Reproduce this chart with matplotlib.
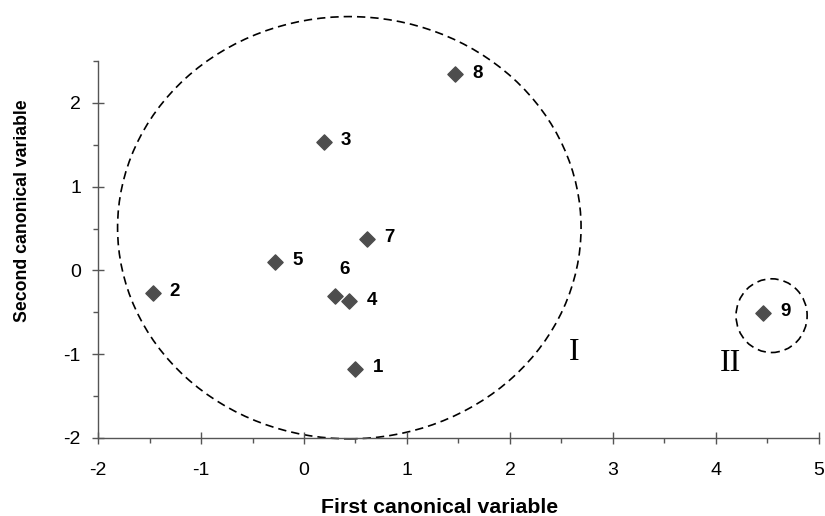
import matplotlib.pyplot as plt
from matplotlib.patches import Ellipse
from matplotlib.ticker import MultipleLocator

# canonical scores for the nine samples
labels = ['1', '2', '3', '4', '5', '6', '7', '8', '9']
first_cv = [0.50, -1.47, 0.19, 0.44, -0.28, 0.30, 0.61, 1.47, 4.46]
second_cv = [-1.18, -0.27, 1.53, -0.37, 0.10, -0.30, 0.38, 2.34, -0.51]

# cluster outlines (center x, center y, width, height) and names
clusters = ['I', 'II']
cluster_shapes = [(0.44, 0.51, 4.50, 5.04), (4.54, -0.54, 0.69, 0.88)]
cluster_name_pos = [(2.62, -1.075), (4.14, -1.20)]

plt.rcParams['font.family'] = ['Liberation Sans', 'DejaVu Sans']
plt.rcParams['axes.unicode_minus'] = False

fig = plt.figure(figsize=(8.25, 5.16), dpi=100)
ax = fig.add_axes([0.1188, 0.1512, 0.8739, 0.7306])

ax.scatter(first_cv, second_cv, marker='D', s=60, color='#4d4d4d', zorder=3)
for lab, x, y in zip(labels, first_cv, second_cv):
    off = (7, 18.5) if lab == '6' else (16, 1)
    ax.annotate(lab, (x, y), xytext=off, textcoords='offset points',
                ha='center', va='center', fontsize=13.5, fontweight='bold')

for (cx, cy, w, h) in cluster_shapes:
    e = Ellipse((cx, cy), w, h, fill=False, linestyle=(0, (5, 3)),
                linewidth=1.2, edgecolor='black', clip_on=False)
    ax.add_patch(e)

for name, (tx, ty) in zip(clusters, cluster_name_pos):
    ax.text(tx, ty, name, ha='center', va='baseline', fontsize=23,
            family='Liberation Serif')

ax.set_xlim(-2, 5)
ax.set_ylim(-2, 2.5)
ax.xaxis.set_major_locator(MultipleLocator(1))
ax.xaxis.set_minor_locator(MultipleLocator(0.5))
ax.yaxis.set_major_locator(MultipleLocator(1))
ax.yaxis.set_minor_locator(MultipleLocator(0.5))

for side in ['top', 'right']:
    ax.spines[side].set_visible(False)
for side in ['left', 'bottom']:
    ax.spines[side].set_color('#555555')
    ax.spines[side].set_linewidth(1.0)

ax.tick_params(which='major', direction='inout', length=8.6, width=1,
               color='#555555', labelsize=14, pad=8)
ax.tick_params(which='minor', direction='out', length=3.6, width=1,
               color='#555555')
ax.tick_params(axis='x', which='major', pad=13)

fig.text(0.533, 0.0174, 'First canonical variable', ha='center', va='center',
         fontsize=15.3, fontweight='bold')
fig.text(0.027, 0.591, 'Second canonical variable', ha='center', va='center',
         rotation=90, fontsize=12.7, fontweight='bold')

fig.savefig('out.png', dpi=100)
